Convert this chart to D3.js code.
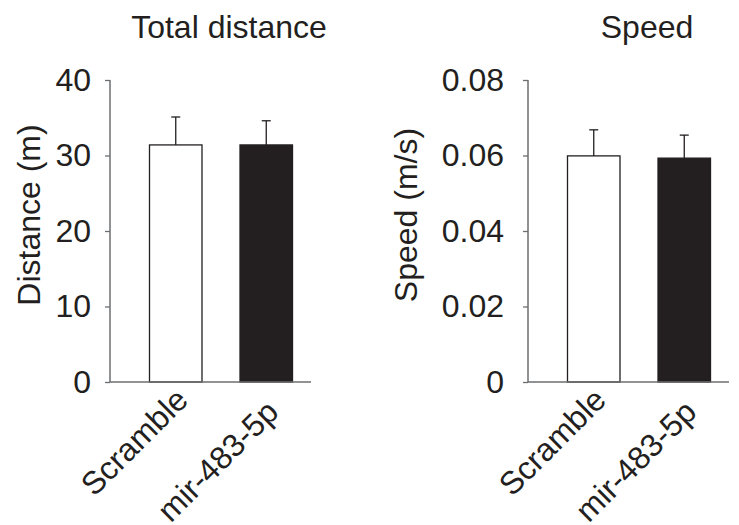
<!DOCTYPE html>
<html>
<head>
<meta charset="utf-8">
<script src="https://cdn.jsdelivr.net/npm/d3@7"></script>
<style>
  html, body { margin: 0; padding: 0; background: #fff; }
  svg text { font-family: "Liberation Sans", Arial, sans-serif; fill: #231f20; }
</style>
</head>
<body>
<svg id="chart" width="739" height="525"></svg>
<script>
// ---- data ----
const categories = ["Scramble", "mir-483-5p"];
const distanceMean = [31.4, 31.4];
const distanceErr = [3.7, 3.2];
const speedMean = [0.0599, 0.0593];
const speedErr = [0.0069, 0.0061];
const distanceTicks = [0, 10, 20, 30, 40];
const speedTicks = [0, 0.02, 0.04, 0.06, 0.08];
const titles = ["Total distance", "Speed"];
const yLabels = ["Distance (m)", "Speed (m/s)"];

// ---- layout ----
const svg = d3.select("#chart");
const FONT = 32;
const ink = "#231f20";
const axisColor = "#6d6e71";
const plotTop = 80, plotBase = 382;
const labelDy = [20, 32];

const panels = [
  { axisX: 110, mean: distanceMean, err: distanceErr, ticks: distanceTicks, domain: [0, 40],
    fmt: d => String(d), tickPad: 14, yLabelX: 40, title: titles[0], yLabel: yLabels[0] },
  { axisX: 528, mean: speedMean, err: speedErr, ticks: speedTicks, domain: [0, 0.08],
    fmt: d => d === 0 ? "0" : d3.format(".2f")(d), tickPad: 19, yLabelX: 417, title: titles[1], yLabel: yLabels[1] }
];

panels.forEach(p => {
  const g = svg.append("g");
  const y = d3.scaleLinear().domain(p.domain).range([plotBase, plotTop]);
  const x = d3.scaleBand().domain(categories)
    .range([p.axisX + 39.5, p.axisX + 182.5]).paddingInner(0.42).paddingOuter(0);

  // bars
  g.selectAll("rect.bar").data(categories).enter().append("rect")
    .attr("x", d => x(d))
    .attr("y", (d, i) => y(p.mean[i]))
    .attr("width", x.bandwidth())
    .attr("height", (d, i) => plotBase - y(p.mean[i]))
    .attr("fill", (d, i) => i === 0 ? "#ffffff" : ink)
    .attr("stroke", ink)
    .attr("stroke-width", 1.3);

  // error bars (upper only)
  categories.forEach((c, i) => {
    const cx = x(c) + x.bandwidth() / 2;
    const y0 = y(p.mean[i]), y1 = y(p.mean[i] + p.err[i]);
    g.append("line").attr("x1", cx).attr("x2", cx).attr("y1", y0).attr("y2", y1)
      .attr("stroke", ink).attr("stroke-width", 1.3);
    g.append("line").attr("x1", cx - 4.5).attr("x2", cx + 4.5).attr("y1", y1).attr("y2", y1)
      .attr("stroke", ink).attr("stroke-width", 1.3);
  });

  // y axis
  const yAxis = d3.axisLeft(y).tickValues(p.ticks).tickFormat(p.fmt)
    .tickSize(5).tickPadding(p.tickPad);
  const ga = g.append("g").attr("transform", `translate(${p.axisX},0)`).call(yAxis);
  ga.select(".domain").attr("d", `M0,${plotTop}V${plotBase}`).attr("stroke", axisColor).attr("stroke-width", 1.5);
  ga.selectAll(".tick line").attr("stroke", axisColor).attr("stroke-width", 1.3);
  ga.selectAll(".tick text").attr("font-size", FONT).attr("font-family", null).attr("fill", ink);

  // baseline
  g.append("line").attr("x1", p.axisX).attr("x2", p.axisX + 201)
    .attr("y1", plotBase).attr("y2", plotBase).attr("stroke", axisColor).attr("stroke-width", 1.5);

  // x labels rotated
  g.selectAll("text.xl").data(categories).enter().append("text")
    .attr("class", "xl")
    .attr("font-size", FONT)
    .attr("text-anchor", "end")
    .attr("transform", (d, i) => `translate(${x(d) + x.bandwidth() / 2 + 14},${plotBase + labelDy[i]}) rotate(-45)`)
    .text(d => d);

  // title
  g.append("text").attr("x", p.axisX + 119).attr("y", 38)
    .attr("text-anchor", "middle").attr("font-size", FONT).text(p.title);

  // y label
  g.append("text").attr("transform", `translate(${p.yLabelX},215) rotate(-90)`)
    .attr("text-anchor", "middle").attr("font-size", FONT).text(p.yLabel);
});
</script>
</body>
</html>
